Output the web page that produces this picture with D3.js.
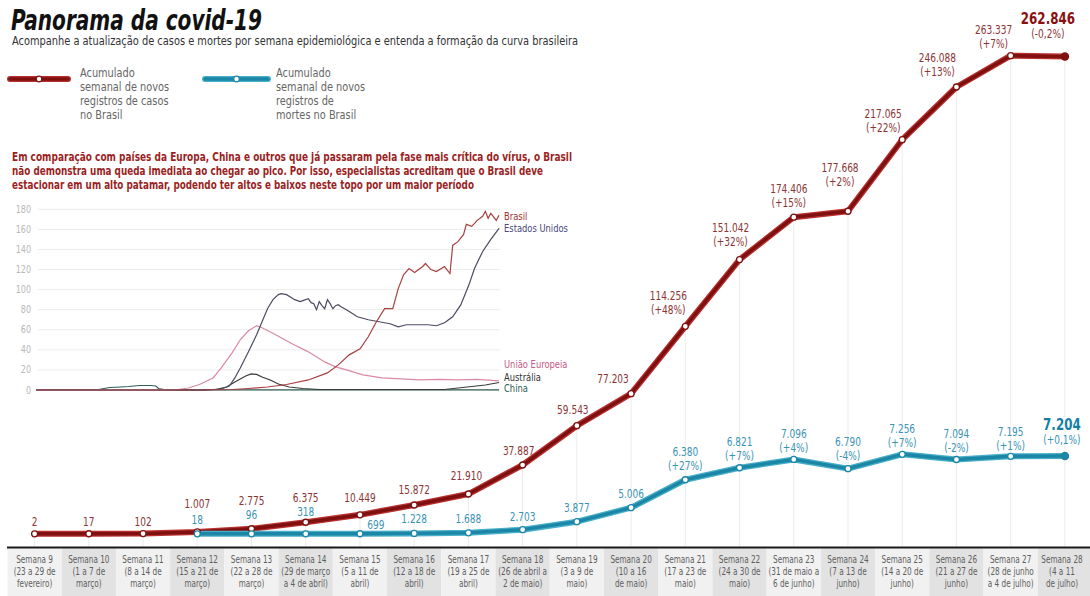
<!DOCTYPE html>
<html><head><meta charset="utf-8">
<script src="https://cdn.jsdelivr.net/npm/d3@7"></script>
<style>body{margin:0;background:#fff}svg{display:block}</style>
</head><body>
<svg id="c" width="1090" height="596"></svg>
<script>
// ---------- DATA ----------
const weeks = ["Semana 9","Semana 10","Semana 11","Semana 12","Semana 13","Semana 14","Semana 15","Semana 16","Semana 17","Semana 18","Semana 19","Semana 20","Semana 21","Semana 22","Semana 23","Semana 24","Semana 25","Semana 26","Semana 27","Semana 28"];
const weekDates = [["(23 a 29 de","fevereiro)"],["(1 a 7 de","março)"],["(8 a 14 de","março)"],["(15 a 21 de","março)"],["(22 a 28 de","março)"],["(29 de março","a 4 de abril)"],["(5 a 11 de","abril)"],["(12 a 18 de","abril)"],["(19 a 25 de","abril)"],["(26 de abril a","2 de maio)"],["(3 a 9 de","maio)"],["(10 a 16","de maio)"],["(17 a 23 de","maio)"],["(24 a 30 de","maio)"],["(31 de maio a","6 de junho)"],["(7 a 13 de","junho)"],["(14 a 20 de","junho)"],["(21 a 27 de","junho)"],["(28 de junho","a 4 de julho)"],["(4 a 11","de julho)"]];
const casesValues = [2,17,102,1007,2775,6375,10449,15872,21910,37887,59543,77203,114256,151042,174406,177668,217065,246088,263337,262846];
const casesChange = [null,null,null,null,null,null,null,null,null,null,null,null,"+48%","+32%","+15%","+2%","+22%","+13%","+7%","-0,2%"];
const deathsValues = [null,null,null,18,96,318,699,1228,1688,2703,3877,5006,6380,6821,7096,6790,7256,7094,7195,7204];
const deathsChange = [null,null,null,null,null,null,null,null,null,null,null,null,"+27%","+7%","+4%","-4%","+7%","-2%","+1%","+0,1%"];

// inset: daily new cases per million ([day since 22 jan, value])
const insetTicks = [0,20,40,60,80,100,120,140,160,180];
const insetBrasil = [[0,0],[60,0],[72,0.5],[78,1.5],[85,3],[92,5.5],[100,10],[107,17],[111,25],[115,35],[119,41],[122,53],[125,68],[128,81],[131,81],[133,101],[135,115],[137,121],[139,117],[142,123],[143,126],[145,120],[147,118],[150,123],[152,116],[153,144],[155,148],[157,155],[158,165],[160,163],[162,169],[164,173],[165,178],[166,171],[167,176],[169,169],[170,174]];
const insetEUA = [[0,0],[62,0],[68,1],[71,4],[73,12],[75,22],[78,38],[81,55],[83,68],[85,81],[87,90],[89,95],[90,96],[92,95],[95,90],[97,88],[98,89],[100,91],[101,87],[102,86],[103,80],[104,88],[105,84],[106,81],[107,90],[108,86],[109,81],[110,84],[111,85],[112,83],[114,80],[118,73],[122,70],[126,68],[130,66],[133,63],[136,65],[140,65],[144,65],[147,64],[150,67],[153,73],[156,85],[159,105],[161,121],[164,138],[167,150],[170,161]];
const insetUE = [[0,0],[40,0],[52,0.5],[56,2],[60,5.5],[65,12],[68,22],[72,37],[75,50],[78,59],[81,64],[83,62],[88,55],[94,46],[100,38],[106,28],[110,23],[114,20],[120,15],[127,12],[134,11],[141,10],[148,10.5],[155,10],[162,10.5],[170,9]];
const insetAustralia = [[0,0],[60,0],[66,0.5],[70,3],[73,8],[75,11],[77,14],[79,16],[81,15.5],[83,13],[86,10],[89,6],[93,3],[98,1.5],[104,0.5],[150,0.5],[155,2],[160,3.5],[165,5],[170,7.5]];
const insetChina = [[0,0.5],[23,0.5],[25,1.5],[27,2.5],[31,3],[34,3.5],[36,4],[38,4.5],[42,4.5],[44,4],[45,1.5],[47,0.5],[50,0.2],[170,0.2]];

// ---------- DRAW ----------
const FONT = '"DejaVu Sans Condensed","DejaVu Sans",sans-serif';
const svg = d3.select("#c");
const ptBR = d3.formatLocale({decimal:",",thousands:".",grouping:[3],currency:["R$",""]});
const fmt = ptBR.format(",d");

// horizontally condense text to emulate a narrow typeface
function condense(sel, f){
  sel.each(function(){
    const L = this.getComputedTextLength();
    this.setAttribute("textLength", (L*f).toFixed(2));
    this.setAttribute("lengthAdjust","spacingAndGlyphs");
  });
  return sel;
}
function fitTo(sel, w){ sel.attr("textLength",w).attr("lengthAdjust","spacingAndGlyphs"); return sel; }

// title block
fitTo(svg.append("text").attr("x",11).attr("y",30).text("Panorama da covid-19")
  .attr("font-family",FONT).attr("font-weight","bold").attr("font-style","italic")
  .attr("font-size",27.5).attr("fill","#111"), 251);
fitTo(svg.append("text").attr("x",12).attr("y",45)
  .text("Acompanhe a atualização de casos e mortes por semana epidemiológica e entenda a formação da curva brasileira")
  .attr("font-family",FONT).attr("font-size",12).attr("fill","#333"), 566);

// legend
const RED="#7e1010", RED2="#b83030", TEAL="#1b86a6", TEAL2="#48afc9";
const legends = [
  {x0:10,x1:68,tx:80,c:RED,c2:RED2,lines:["Acumulado","semanal de novos","registros de casos","no Brasil"]},
  {x0:205,x1:268,tx:276,c:TEAL,c2:TEAL2,lines:["Acumulado","semanal de novos","registros de","mortes no Brasil"]}
];
legends.forEach(l=>{
  svg.append("line").attr("x1",l.x0).attr("x2",l.x1).attr("y1",79).attr("y2",79)
    .attr("stroke",l.c2).attr("stroke-width",6).attr("stroke-linecap","round");
  svg.append("line").attr("x1",l.x0).attr("x2",l.x1).attr("y1",79).attr("y2",79)
    .attr("stroke",l.c).attr("stroke-width",3.5).attr("stroke-linecap","round");
  svg.append("circle").attr("cx",(l.x0+l.x1)/2).attr("cy",79).attr("r",2.8)
    .attr("fill","#fff").attr("stroke",l.c).attr("stroke-width",1.2);
  l.lines.forEach((s,i)=>condense(svg.append("text").attr("x",l.tx).attr("y",77+i*14).text(s)
    .attr("font-family",FONT).attr("font-size",12.5).attr("fill","#666"),0.87));
});

// red paragraph
const para = ["Em comparação com países da Europa, China e outros que já passaram pela fase mais crítica do vírus, o Brasil",
 "não demonstra uma queda imediata ao chegar ao pico. Por isso, especialistas acreditam que o Brasil deve",
 "estacionar em um alto patamar, podendo ter altos e baixos neste topo por um maior período"];
const paraW = [560,531,462];
para.forEach((s,i)=>fitTo(svg.append("text").attr("x",12).attr("y",161+i*14).text(s)
  .attr("font-family",FONT).attr("font-weight","bold").attr("font-size",12.3).attr("fill","#9c1f1f"), paraW[i]));

// ---------- INSET ----------
const ix = d3.scaleLinear().domain([0,170]).range([36,499]);
const iy = d3.scaleLinear().domain([0,180]).range([390,209.3]);
const ig = svg.append("g");
insetTicks.forEach(t=>{
  ig.append("line").attr("x1",38).attr("x2",500).attr("y1",iy(t)).attr("y2",iy(t))
    .attr("stroke","#ececec").attr("stroke-width",1);
  condense(ig.append("text").attr("x",31).attr("y",iy(t)+3.5).attr("text-anchor","end").text(t)
    .attr("font-family",FONT).attr("font-size",10.5).attr("fill","#b8b8b8"),0.85);
});
const iline = d3.line().x(d=>ix(d[0])).y(d=>iy(d[1]));
const insetSeries = [
  {d:insetChina,c:"#2f5e52",name:"China",ly:392,lc:"#2f5e52"},
  {d:insetAustralia,c:"#3a3a3a",name:"Austrália",ly:380.5,lc:"#333"},
  {d:insetUE,c:"#d98aa2",name:"União Europeia",ly:368,lc:"#c45a86"},
  {d:insetEUA,c:"#4b4b63",name:"Estados Unidos",ly:232,lc:"#4a4a7c"},
  {d:insetBrasil,c:"#a84040",name:"Brasil",ly:220,lc:"#a33030"}
];
insetSeries.forEach(s=>{
  ig.append("path").attr("d",iline(s.d)).attr("fill","none").attr("stroke",s.c).attr("stroke-width",1.2);
});
insetSeries.forEach(s=>{
  condense(ig.append("text").attr("x",504).attr("y",s.ly).text(s.name)
    .attr("font-family",FONT).attr("font-size",10.8).attr("fill",s.lc),0.86);
});

// ---------- MAIN CHART ----------
const x = d3.scalePoint().domain(weeks).range([34.6,1064.9]);
const step = x.step();
const yC = d3.scaleLinear().domain([0,263337]).range([533.8,55.7]);
const yD = d3.scalePow().exponent(3).domain([0,7204]).range([533.8,456]);
const AXY = 547.5;

// category cells
const cells = svg.append("g");
weeks.forEach((w,i)=>{
  const cx = x(w);
  cells.append("rect").attr("x",cx-step/2).attr("y",AXY).attr("width",step).attr("height",596-AXY)
    .attr("fill", i%2===0 ? "#f1f1f1" : "#e2e2e2");
  const tx = Math.min(cx, 1062);
  [w, weekDates[i][0], weekDates[i][1]].forEach((s,j)=>
    condense(cells.append("text").attr("x",tx).attr("y",562.5+j*12).attr("text-anchor","middle").text(s)
      .attr("font-family",FONT).attr("font-size",10.4).attr("fill","#5e5e5e"),0.78));
});

// vertical guides
weeks.forEach((w,i)=>{
  svg.append("line").attr("x1",x(w)).attr("x2",x(w)).attr("y1",yC(casesValues[i])).attr("y2",AXY)
    .attr("stroke","#ececec").attr("stroke-width",1);
});
svg.append("line").attr("x1",7).attr("x2",1092).attr("y1",AXY).attr("y2",AXY).attr("stroke","#1a1a1a").attr("stroke-width",2);

// lines
const casesPts = weeks.map((w,i)=>({x:x(w),y:yC(casesValues[i]),i}));
const deathPts = weeks.map((w,i)=>deathsValues[i]==null?null:({x:x(w),y:yD(deathsValues[i]),i})).filter(d=>d);
const ln = d3.line().x(d=>d.x).y(d=>d.y);
[[casesPts,RED,RED2],[deathPts,TEAL,TEAL2]].forEach(([pts,c,c2])=>{
  svg.append("path").attr("d",ln(pts)).attr("fill","none").attr("stroke",c2).attr("stroke-width",6).attr("stroke-linejoin","round").attr("stroke-linecap","round");
  svg.append("path").attr("d",ln(pts)).attr("fill","none").attr("stroke",c).attr("stroke-width",3.4).attr("stroke-linejoin","round").attr("stroke-linecap","round");
});
[[casesPts,RED],[deathPts,TEAL]].forEach(([pts,c])=>{
  pts.forEach((p,k)=>{
    const last = k===pts.length-1;
    svg.append("circle").attr("cx",p.x).attr("cy",p.y).attr("r",last?3.6:3)
      .attr("fill",last?c:"#fff").attr("stroke",c).attr("stroke-width",1.3);
  });
});

// label layout (offsets relative to each point)
const caseLay = {0:[0,-8],1:[0,-8],2:[0,-8],3:[0,-24],4:[0,-24],5:[0,-20],6:[0,-13],7:[0,-11],8:[-2,-14],9:[-4,-10],10:[-4,-12],11:[-18,-11],
  12:[-17,-12],13:[-9,-14],14:[-5,-10],15:[-8,-25],16:[-19,-8],17:[-19,-11],18:[-17,-8],19:[-17,-19]};
const deathLay = {3:[0,-10],4:[0,-15],5:[0,-18],6:[16,-5],7:[0,-10],8:[0,-10],9:[0,-9],10:[0,-10],11:[0,-10],
  12:[0,-10],13:[0,-8],14:[0,-7],15:[0,-9],16:[0,-7],17:[0,-8],18:[0,-6],19:[-3,-12]};

function addLabel(p, val, chg, lay, col, strongCol, last){
  const [dx,dy] = lay;
  const cx = p.x+dx;
  const base = (t)=>svg.append("text").attr("x",cx).attr("text-anchor","middle").text(t)
      .attr("font-family",FONT).attr("font-size",12.5).attr("fill",col);
  if (chg==null){
    condense(base(fmt(val)).attr("y",p.y+dy),0.8);
  } else {
    condense(base("("+chg+")").attr("y",p.y+dy),0.8);
    const v = base(fmt(val)).attr("y",p.y+dy-14);
    if (last) v.attr("font-size",16.5).attr("font-weight","bold").attr("fill",strongCol);
    condense(v,0.8);
  }
}
casesPts.forEach(p=>addLabel(p,casesValues[p.i],casesChange[p.i],caseLay[p.i],"#8c3434","#8a1010",p.i===19));
deathPts.forEach(p=>addLabel(p,deathsValues[p.i],deathsChange[p.i],deathLay[p.i],"#3a93b4","#1680a4",p.i===19));
</script>
</body></html>
